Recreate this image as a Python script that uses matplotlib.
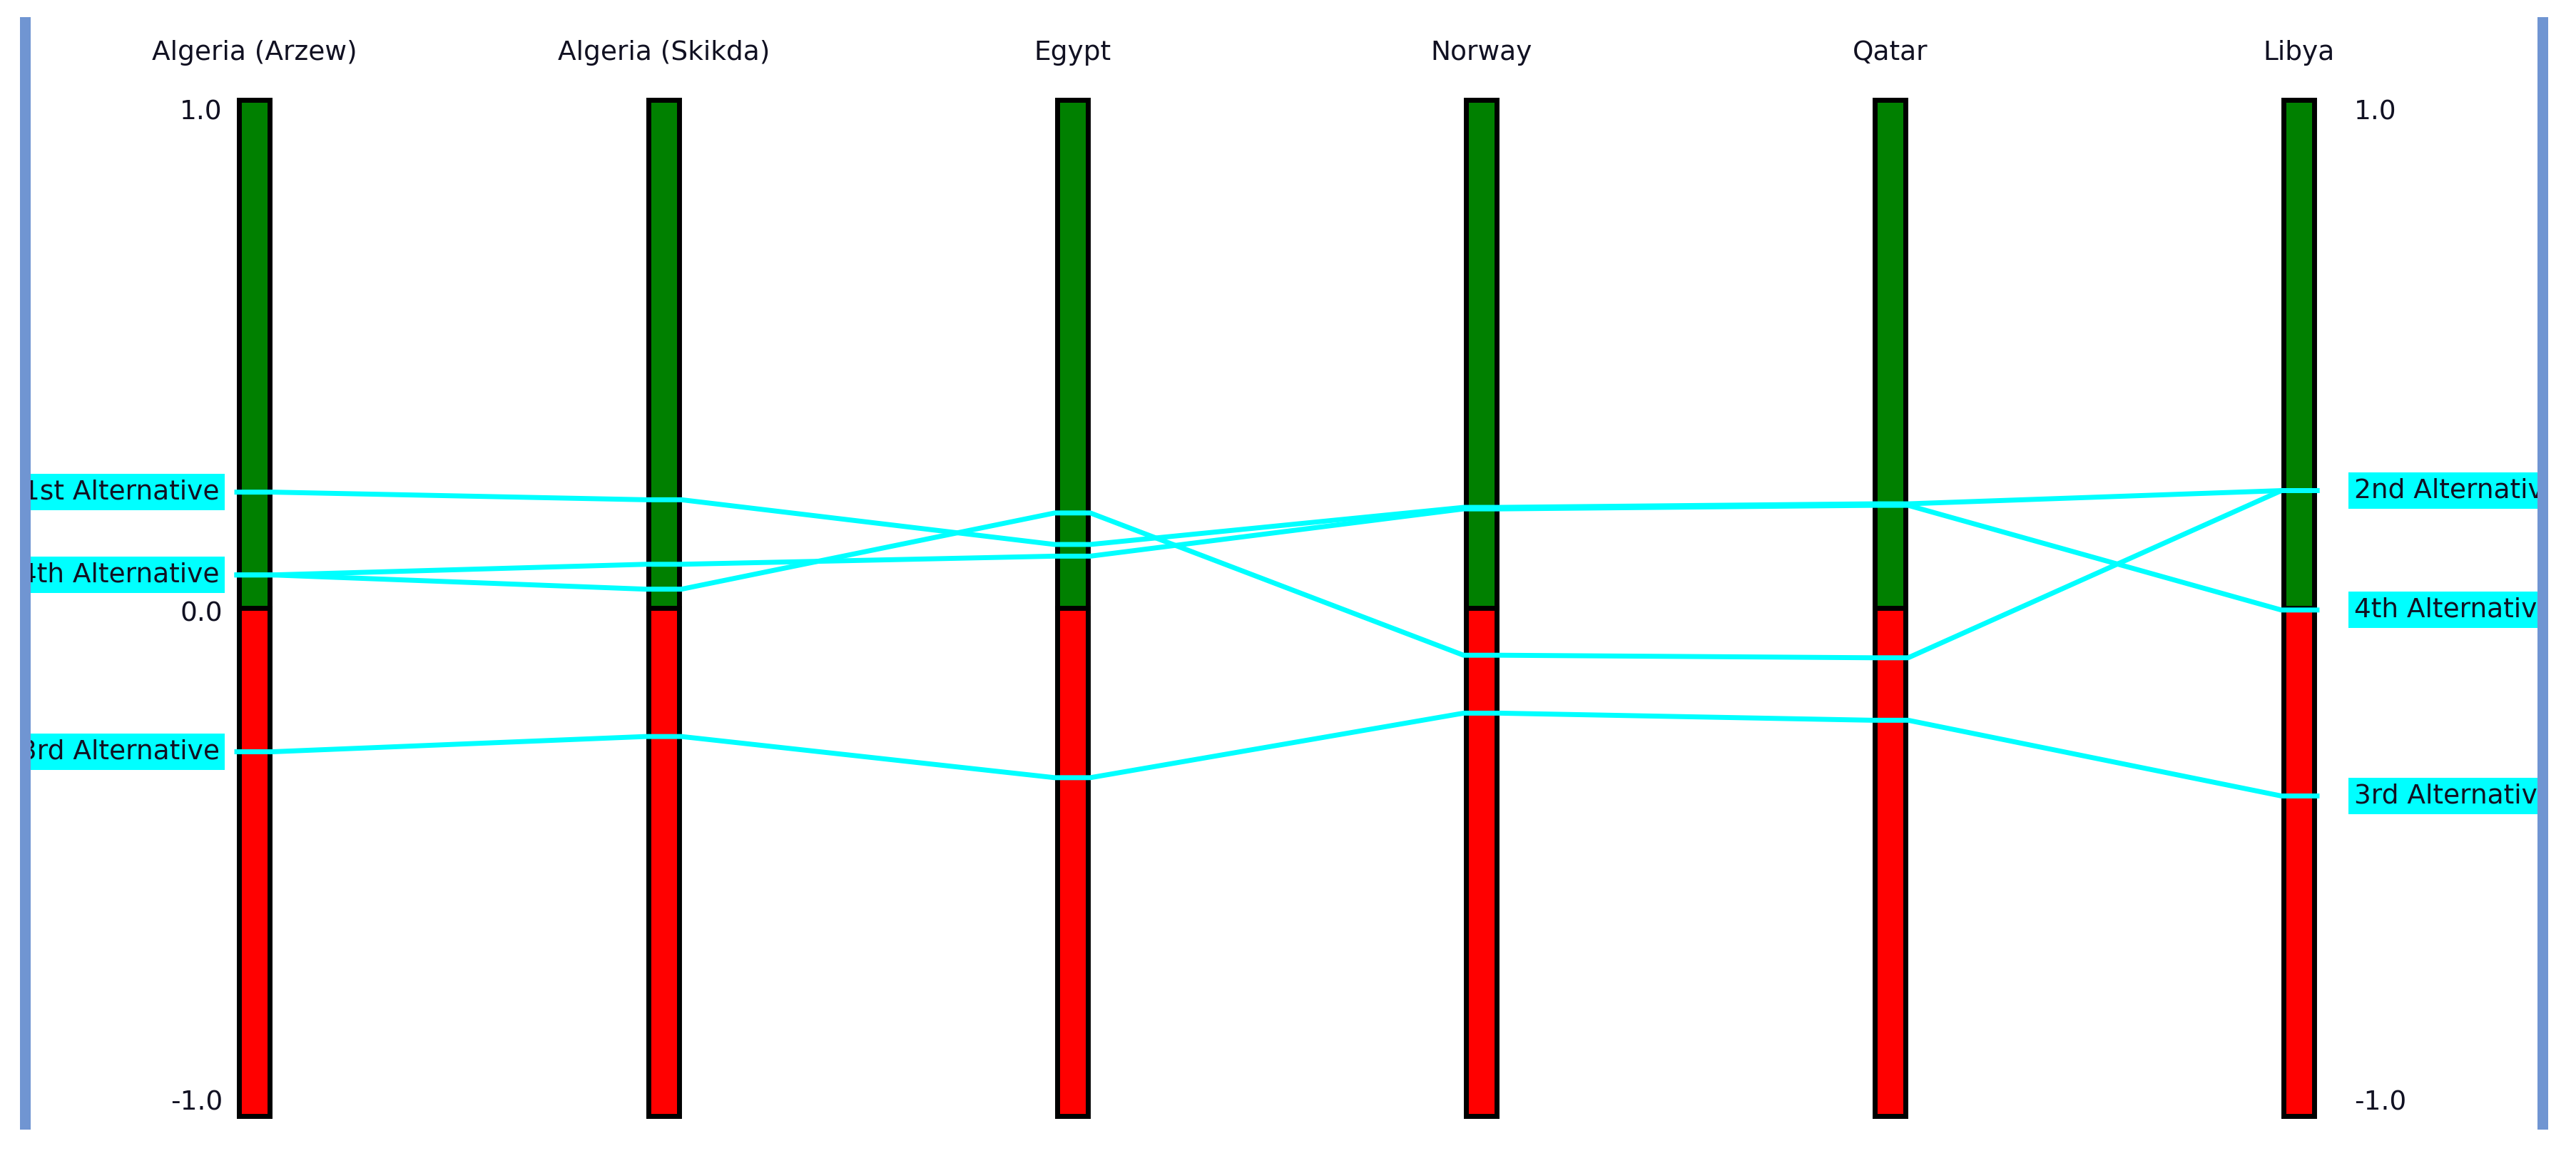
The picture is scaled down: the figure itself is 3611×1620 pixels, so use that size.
import numpy as np
import matplotlib.pyplot as plt
from matplotlib.patches import Rectangle

# data
countries = ["Algeria (Arzew)", "Algeria (Skikda)", "Egypt", "Norway", "Qatar", "Libya"]
alternatives = ["1st Alternative", "2nd Alternative", "3rd Alternative", "4th Alternative"]
alt_1st = [0.228, 0.213, 0.125, 0.198, 0.205, 0.231]
alt_2nd = [0.065, 0.037, 0.187, -0.093, -0.098, 0.231]
alt_3rd = [-0.283, -0.253, -0.334, -0.207, -0.221, -0.370]
alt_4th = [0.065, 0.086, 0.102, 0.195, 0.202, -0.004]
tick_values = [1.0, 0.0, -1.0]
tick_labels = ["1.0", "0.0", "-1.0"]

series = [alt_1st, alt_2nd, alt_3rd, alt_4th]

# layout in pixels
W, H = 3612, 1620
X0, DX = 357, 573.2          # first axis centre, spacing
Y0, DY = 852, 712            # zero level from top, pixels per unit
FONT = 27

plt.rcParams['font.family'] = ['DejaVu Sans']

fig = plt.figure(figsize=(W / 100, H / 100), dpi=100)
ax = fig.add_axes([0, 0, 1, 1])
ax.set_xlim(-X0 / DX, (W - X0) / DX)
ax.set_ylim(-(H - Y0) / DY, Y0 / DY)
ax.axis('off')


def px(p):
    return p / W


def py(p):
    return 1 - p / H


x = np.arange(len(countries))
bar_w = 43 / DX
half = 25 / DX

ax.bar(x, [1.0] * len(x), width=bar_w, bottom=0, color='#008000',
       edgecolor='black', linewidth=5, zorder=2)
ax.bar(x, [-1.0] * len(x), width=bar_w, bottom=0, color='#FF0000',
       edgecolor='black', linewidth=5, zorder=2)

# polylines across the bars
for vals in series:
    xs = np.repeat(x, 2) + np.tile([-half, half], len(x))
    ys = np.repeat(vals, 2)
    ax.plot(xs, ys, color='#00FFFF', linewidth=5, zorder=3,
            solid_joinstyle='round')

# column headers
for i, name in enumerate(countries):
    ax.text(i, (Y0 - 74) / DY, name, ha='center', va='center',
            fontsize=FONT, color='#111122')

# scale labels on both sides (the right 0.0 sits under a label box)
vas = ['top', 'center', 'bottom']
offs = [0.0, -0.012, 0.0]
for v, lab, va, o in zip(tick_values, tick_labels, vas, offs):
    ax.text(-(X0 - 312) / DX, v + o, lab, ha='right', va=va,
            fontsize=FONT, color='#111122')
    if v != 0.0:
        ax.text(x[-1] + (3300 - 3223) / DX, v, lab, ha='left', va=va,
                fontsize=FONT, color='#111122')

# alternative labels
box = dict(boxstyle='square,pad=0.2', fc='#00FFFF', ec='none')
for name, vals in zip(alternatives, series):
    ax.text(-(X0 - 308) / DX, vals[0], name, ha='right', va='center',
            fontsize=FONT, color='#111122', bbox=box, zorder=4)
    ax.text(x[-1] + (3300 - 3223) / DX, vals[-1], name, ha='left', va='center',
            fontsize=FONT, color='#111122', bbox=box, zorder=4)

# frame: white margins and blue side lines
ax.add_patch(Rectangle((0, 0), px(28), 1, transform=ax.transAxes,
                       fc='white', ec='none', zorder=10))
ax.add_patch(Rectangle((px(3572), 0), 1 - px(3572), 1, transform=ax.transAxes,
                       fc='white', ec='none', zorder=10))
for xl in (28, 3557):
    ax.add_patch(Rectangle((px(xl), py(1583)), px(15), py(24) - py(1583),
                           transform=ax.transAxes, fc='#7095D2', ec='none',
                           zorder=11))

fig.savefig('out.png', dpi=100, facecolor='white')
